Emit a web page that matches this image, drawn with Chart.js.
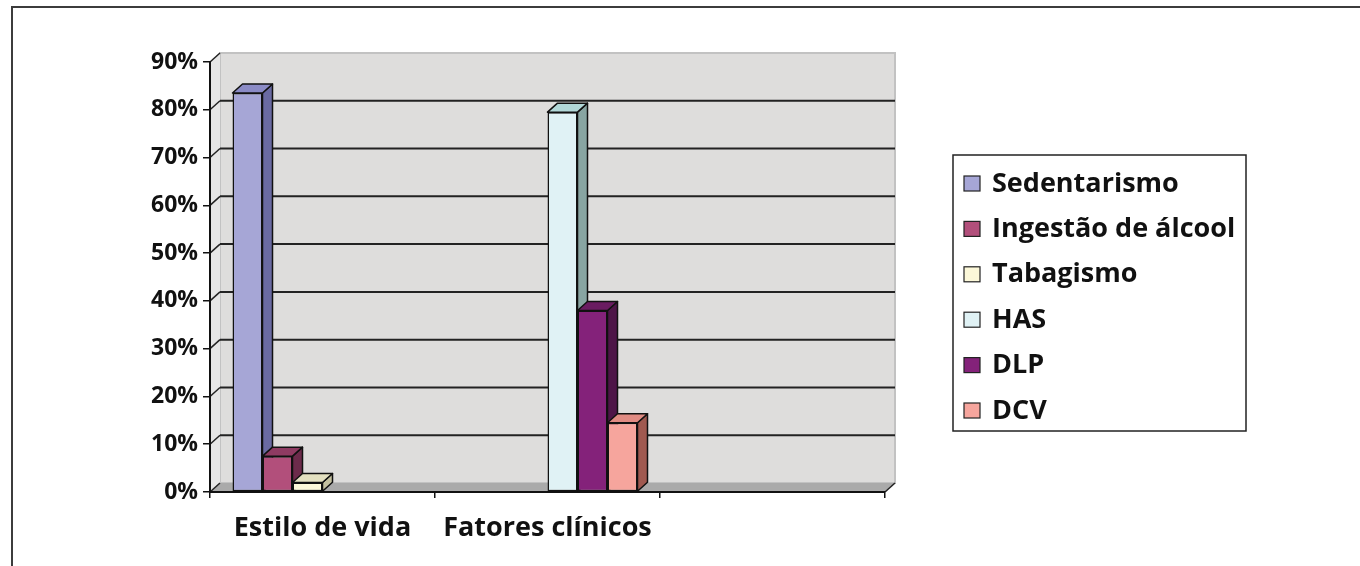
<!DOCTYPE html>
<html>
<head>
<meta charset="utf-8">
<title>Fatores de risco</title>
<script src="https://cdn.jsdelivr.net/npm/chart.js@4.4.1/dist/chart.umd.min.js"></script>
<style>
  html, body { margin: 0; padding: 0; background: #fff; }
  #wrap { width: 1360px; height: 566px; }
</style>
</head>
<body>
<div id="wrap"><canvas id="riskChart" width="1360" height="566"></canvas></div>
<script>
// ============================================================
// DATA
// ============================================================
var categories   = ['Estilo de vida', 'Fatores clínicos', ''];
var sedentarismo = [83.5, null, null];
var ingestao     = [7.5, null, null];
var tabagismo    = [2, null, null];
var has          = [null, 79.5, null];
var dlp          = [null, 38, null];
var dcv          = [null, 14.5, null];
var yTicks       = [0, 10, 20, 30, 40, 50, 60, 70, 80, 90];

// front / side / top colours for each series
var palette = [
  { front: '#a6a6d6', side: '#6a6aa2', top: '#8b8bc6' },
  { front: '#b24f7b', side: '#6c2b4b', top: '#8e3b62' },
  { front: '#fcf8d9', side: '#c4c1a0', top: '#e4e1c1' },
  { front: '#e0f2f5', side: '#88a5a2', top: '#b2d8d8' },
  { front: '#84227a', side: '#4e1548', top: '#6a1c61' },
  { front: '#f6a59d', side: '#a05950', top: '#e08b83' }
];

var DX = 10, DY = -9;    // depth offset of the 3d box
var FAMILY = '"Open Sans"';
var FSIZE = 27;          // legend and category labels
var TSIZE = 23;          // percentage ticks

function poly(ctx, pts, fill) {
  ctx.beginPath();
  ctx.moveTo(pts[0][0], pts[0][1]);
  for (var i = 1; i < pts.length; i++) ctx.lineTo(pts[i][0], pts[i][1]);
  ctx.closePath();
  if (fill) { ctx.fillStyle = fill; ctx.fill(); }
}

// walls, floor and gridlines behind the bars
var backdrop = {
  id: 'backdrop',
  beforeDraw: function(chart) {
    var ctx = chart.ctx, a = chart.chartArea, y = chart.scales.y;
    ctx.save();
    ctx.fillStyle = '#fff';
    ctx.fillRect(0, 0, chart.width, chart.height);

    // frame round the whole figure
    ctx.strokeStyle = '#3c3c3c';
    ctx.lineWidth = 2;
    ctx.beginPath();
    ctx.moveTo(12, chart.height);
    ctx.lineTo(12, 7);
    ctx.lineTo(chart.width, 7);
    ctx.stroke();

    // back wall
    poly(ctx, [[a.left + DX, a.top + DY], [a.right + DX, a.top + DY],
               [a.right + DX, a.bottom + DY], [a.left + DX, a.bottom + DY]], '#dedddc');
    ctx.strokeStyle = '#c2c2c2';
    ctx.lineWidth = 2;
    ctx.stroke();
    // left wall
    poly(ctx, [[a.left, a.top], [a.left + DX, a.top + DY],
               [a.left + DX, a.bottom + DY], [a.left, a.bottom]], '#e6e6e6');
    // floor
    poly(ctx, [[a.left, a.bottom], [a.left + DX, a.bottom + DY],
               [a.right + DX, a.bottom + DY], [a.right, a.bottom]], '#aaaaaa');
    ctx.strokeStyle = '#222';
    ctx.lineWidth = 1.5;
    ctx.beginPath();
    ctx.moveTo(a.right, a.bottom);
    ctx.lineTo(a.right + DX, a.bottom + DY);
    ctx.stroke();

    // gridlines on the back wall + diagonals on the left wall
    yTicks.forEach(function(v) {
      var py = y.getPixelForValue(v);
      ctx.strokeStyle = '#222';
      ctx.lineWidth = 1.5;
      ctx.beginPath();
      ctx.moveTo(a.left, py);
      ctx.lineTo(a.left + DX, py + DY);
      ctx.stroke();
      if (v > 0 && v < yTicks[yTicks.length - 1]) {
        ctx.lineWidth = 2;
        ctx.beginPath();
        ctx.moveTo(a.left + DX, py + DY);
        ctx.lineTo(a.right + DX, py + DY);
        ctx.stroke();
      }
    });
    ctx.restore();
  },

  // side and top faces; the fronts are drawn afterwards by chart.js
  beforeDatasetsDraw: function(chart) {
    var ctx = chart.ctx;
    ctx.save();
    ctx.strokeStyle = '#111';
    ctx.lineWidth = 1.5;
    ctx.lineJoin = 'round';
    chart.data.datasets.forEach(function(ds, di) {
      var meta = chart.getDatasetMeta(di);
      meta.data.forEach(function(el, i) {
        if (ds.data[i] == null) return;
        var l = el.x - el.width / 2, r = el.x + el.width / 2;
        var t = el.y, b = el.base;
        poly(ctx, [[r, t], [r + DX, t + DY], [r + DX, b + DY], [r, b]], palette[di].side);
        ctx.stroke();
        poly(ctx, [[l, t], [l + DX, t + DY], [r + DX, t + DY], [r, t]], palette[di].top);
        ctx.stroke();
      });
    });
    ctx.restore();
  },

  // boxed legend on the right
  afterDraw: function(chart) {
    var ctx = chart.ctx;
    var bx = 953, by = 155, bw = 293, bh = 276;
    ctx.save();
    ctx.strokeStyle = '#222';
    ctx.lineWidth = 1.5;
    ctx.strokeRect(bx, by, bw, bh);
    ctx.font = 'bold ' + FSIZE + 'px ' + FAMILY;
    ctx.textBaseline = 'middle';
    chart.data.datasets.forEach(function(ds, i) {
      var cy = 183 + i * 45.4;
      ctx.fillStyle = palette[i].front;
      ctx.fillRect(964, cy - 7, 16, 15);
      ctx.strokeStyle = '#222';
      ctx.lineWidth = 1.2;
      ctx.strokeRect(964, cy - 7, 16, 15);
      ctx.fillStyle = '#111';
      ctx.fillText(ds.label, 992, cy + 1);
    });
    ctx.restore();
  }
};

function series(label, data, i) {
  return {
    label: label,
    data: data,
    backgroundColor: palette[i].front,
    borderColor: '#111',
    borderWidth: 1.5,
    borderSkipped: false,
    categoryPercentage: 0.8,
    barPercentage: 1.0
  };
}

Chart.defaults.font.family = FAMILY;
Chart.defaults.color = '#111';

new Chart(document.getElementById('riskChart').getContext('2d'), {
  type: 'bar',
  data: {
    labels: categories,
    datasets: [
      series('Sedentarismo', sedentarismo, 0),
      series('Ingestão de álcool', ingestao, 1),
      series('Tabagismo', tabagismo, 2),
      series('HAS', has, 3),
      series('DLP', dlp, 4),
      series('DCV', dcv, 5)
    ]
  },
  options: {
    responsive: false,
    animation: false,
    layout: { padding: { left: 0, top: 62, right: 475, bottom: 0 } },
    plugins: { legend: { display: false }, tooltip: { enabled: false } },
    scales: {
      x: {
        afterFit: function(s) { s.height = 74; },
        grid: { display: true, drawOnChartArea: false, color: '#111', lineWidth: 1.5, tickLength: 6 },
        border: { display: true, color: '#111', width: 2 },
        ticks: { font: { size: FSIZE, weight: 'bold' }, padding: 14, maxRotation: 0 }
      },
      y: {
        min: 0,
        max: 90,
        afterFit: function(s) { s.width = 210; },
        afterBuildTicks: function(s) { s.ticks = yTicks.map(function(v) { return { value: v }; }); },
        grid: { display: true, drawOnChartArea: false, color: '#111', lineWidth: 1.5, tickLength: 7 },
        border: { display: true, color: '#111', width: 2 },
        ticks: {
          font: { size: TSIZE, weight: 'bold' },
          padding: 5,
          callback: function(v) { return v + '%'; }
        }
      }
    }
  },
  plugins: [backdrop]
});
</script>
</body>
</html>
